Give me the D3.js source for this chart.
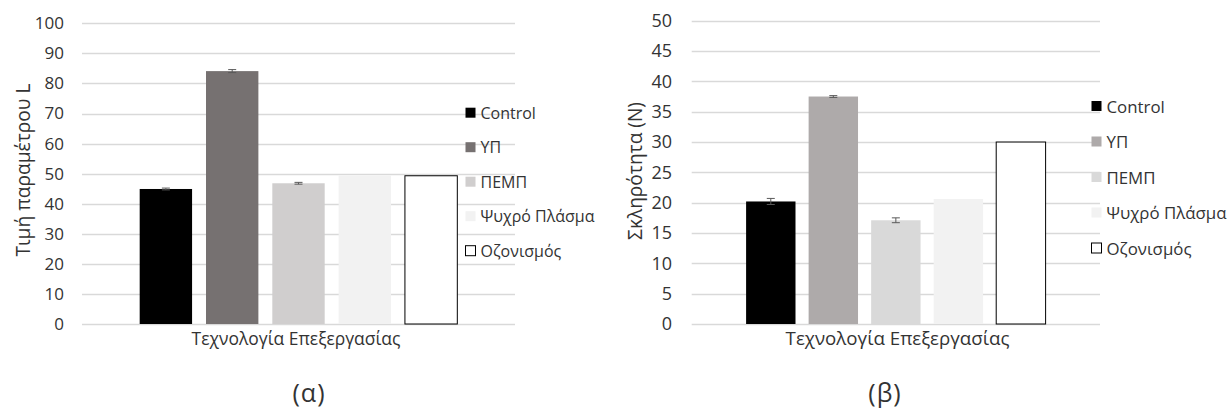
<!DOCTYPE html>
<html>
<head>
<meta charset="utf-8">
<script src="https://cdn.jsdelivr.net/npm/d3@7"></script>
<style>
  html, body { margin: 0; padding: 0; background: #fff; }
  svg { display: block; }
  text { font-family: "Open Sans", "Noto Sans", sans-serif; fill: #333; }
</style>
</head>
<body>
<svg id="chart" width="1230" height="410"></svg>
<script>
// ---------- DATA ----------
const categories = ["Control", "ΥΠ", "ΠΕΜΠ", "Ψυχρό Πλάσμα", "Οζονισμός"];
const valuesL = [44.9, 84.1, 46.8, 49.4, 49.3];
const errorsL = [0.3, 0.5, 0.3, 0, 0];
const valuesHardness = [20.2, 37.5, 17.1, 20.6, 30.0];
const errorsHardness = [0.5, 0.15, 0.4, 0, 0];
const ticksL = [0, 10, 20, 30, 40, 50, 60, 70, 80, 90, 100];
const ticksHardness = [0, 5, 10, 15, 20, 25, 30, 35, 40, 45, 50];
const colorsL = ["#000000", "#767171", "#d0cece", "#f2f2f2", "#ffffff"];
const colorsHardness = ["#000000", "#aeaaaa", "#d9d9d9", "#f2f2f2", "#ffffff"];
const xTitle = "Τεχνολογία Επεξεργασίας";
const yTitleL = "Τιμή παραμέτρου L";
const yTitleHardness = "Σκληρότητα (N)";
const captions = ["(α)", "(β)"];

// ---------- LAYOUT ----------
const svg = d3.select("#chart");

function fitWidth(sel, target) {
  const fs = parseFloat(sel.attr("font-size"));
  const w = sel.node().getComputedTextLength();
  sel.attr("font-size", (fs * target / w).toFixed(2));
}

function drawChart(cfg) {
  const g = svg.append("g");
  const y = d3.scaleLinear().domain([0, cfg.ticks[cfg.ticks.length - 1]]).range(cfg.plotY);
  const x = d3.scaleBand().domain(categories).range(cfg.plotX)
    .paddingInner(0.21).paddingOuter(0.87);

  // gridlines
  g.append("g").selectAll("line").data(cfg.ticks).join("line")
    .attr("x1", cfg.plotX[0]).attr("x2", cfg.plotX[1])
    .attr("y1", d => Math.round(y(d)) + 0.5).attr("y2", d => Math.round(y(d)) + 0.5)
    .attr("stroke", "#d9d9d9").attr("stroke-width", 1.3);

  // y axis labels
  const ax = g.append("g").attr("transform", `translate(${cfg.tickRight},0)`)
    .call(d3.axisLeft(y).tickValues(cfg.ticks).tickSize(0).tickPadding(0));
  ax.select(".domain").remove();
  ax.selectAll("text").attr("font-size", cfg.tickSize)
    .attr("font-family", '"Open Sans", sans-serif').attr("fill", "#333");

  // bars
  g.append("g").selectAll("rect").data(cfg.values).join("rect")
    .attr("x", (d, i) => x(categories[i]))
    .attr("width", x.bandwidth())
    .attr("y", d => y(d))
    .attr("height", d => y(0) - y(d))
    .attr("fill", (d, i) => cfg.colors[i])
    .attr("stroke", (d, i) => i === 4 ? "#000" : "none")
    .attr("stroke-width", 1);

  // error bars
  const eb = g.append("g").attr("stroke", "#595959").attr("stroke-width", 1);
  cfg.values.forEach((v, i) => {
    const e = cfg.errors[i];
    if (!e) return;
    const cx = x(categories[i]) + x.bandwidth() / 2;
    eb.append("line").attr("x1", cx).attr("x2", cx).attr("y1", y(v - e)).attr("y2", y(v + e));
    [v - e, v + e].forEach(t => eb.append("line")
      .attr("x1", cx - 4).attr("x2", cx + 4).attr("y1", y(t)).attr("y2", y(t)));
  });

  // y title
  const yt = g.append("text")
    .attr("transform", `translate(${cfg.yTitleX},${cfg.yTitleY}) rotate(-90)`)
    .attr("text-anchor", "middle").attr("dominant-baseline", "central")
    .attr("font-size", 16).text(cfg.yTitle);
  fitWidth(yt, cfg.yTitleW);

  // x title
  const xt = g.append("text").attr("x", cfg.xTitleX).attr("y", cfg.xTitleY)
    .attr("text-anchor", "middle").attr("font-size", 16).text(xTitle);
  fitWidth(xt, cfg.xTitleW);

  // legend
  const lg = g.append("g");
  const items = lg.selectAll("g").data(categories).join("g")
    .attr("transform", (d, i) => `translate(${cfg.legendX},${cfg.legendY0 + i * cfg.legendStep})`);
  items.append("rect").attr("x", 0.5).attr("y", -5).attr("width", 10).attr("height", 10)
    .attr("fill", (d, i) => cfg.colors[i])
    .attr("stroke", (d, i) => i === 4 ? "#000" : "none");
  const lt = items.append("text").attr("x", cfg.legendTextDx).attr("y", 0)
    .attr("dominant-baseline", "central").attr("font-size", 15).text(d => d);
  const ref = lt.filter((d, i) => i === 3);
  fitWidth(ref, cfg.legendRefW);
  lt.attr("font-size", ref.attr("font-size"));

  // caption
  g.append("text").attr("x", cfg.capX).attr("y", cfg.capY)
    .attr("text-anchor", "middle").attr("dominant-baseline", "central")
    .attr("font-size", 25).attr("letter-spacing", 1).attr("fill", "#000").text(cfg.caption);
}

drawChart({
  values: valuesL, errors: errorsL, colors: colorsL, ticks: ticksL, yTitle: yTitleL,
  plotX: [82, 515], plotY: [324, 23.3], tickRight: 64, tickSize: 17,
  yTitleX: 22, yTitleY: 170, yTitleW: 173,
  xTitleX: 296, xTitleY: 345, xTitleW: 209,
  legendX: 465, legendY0: 112.7, legendStep: 34.5, legendTextDx: 15.5, legendRefW: 114,
  caption: captions[0], capX: 309, capY: 392
});

drawChart({
  values: valuesHardness, errors: errorsHardness, colors: colorsHardness, ticks: ticksHardness, yTitle: yTitleHardness,
  plotX: [691.7, 1100], plotY: [324, 20.7], tickRight: 672, tickSize: 18,
  yTitleX: 635, yTitleY: 171, yTitleW: 138,
  xTitleX: 897.5, xTitleY: 345, xTitleW: 224,
  legendX: 1091, legendY0: 106, legendStep: 35.5, legendTextDx: 15.5, legendRefW: 120,
  caption: captions[1], capX: 885, capY: 392
});
</script>
</body>
</html>
